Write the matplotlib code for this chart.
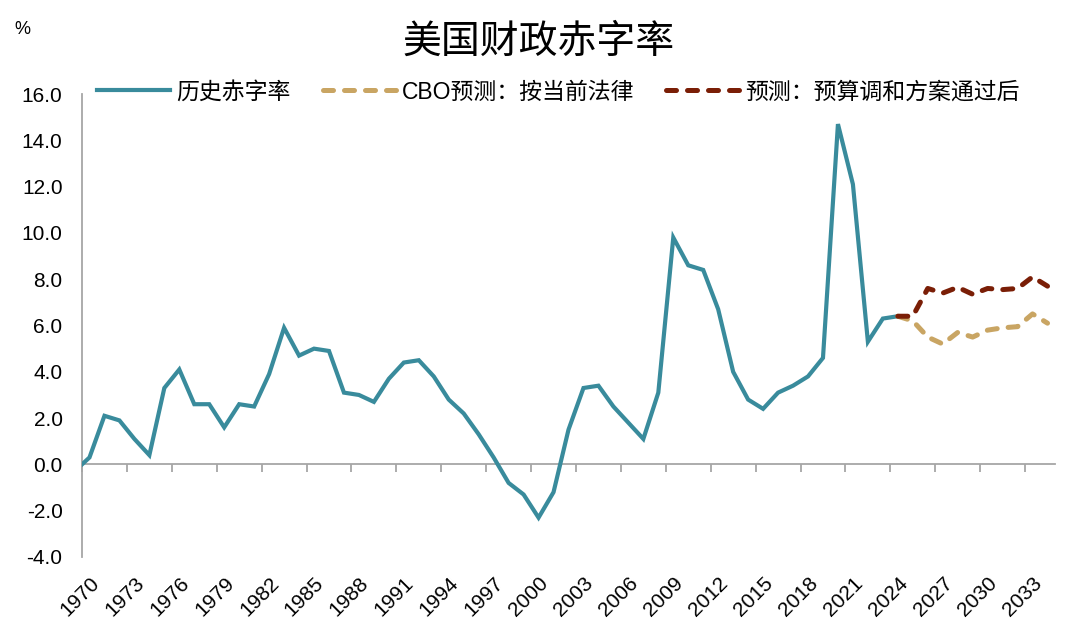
import matplotlib
matplotlib.use("Agg")
import matplotlib.pyplot as plt
from matplotlib.ticker import FormatStrFormatter

plt.rcParams['font.family'] = ['Liberation Sans', 'Noto Sans CJK SC']
plt.rcParams['axes.unicode_minus'] = False

# data (% of GDP)
hist_years = list(range(1969, 2025))
hist_deficit = [-0.3, 0.3, 2.1, 1.9, 1.1, 0.4, 3.3, 4.1, 2.6, 2.6,
                1.6, 2.6, 2.5, 3.9, 5.9, 4.7, 5.0, 4.9, 3.1, 3.0,
                2.7, 3.7, 4.4, 4.5, 3.8, 2.8, 2.2, 1.3, 0.3, -0.8,
                -1.3, -2.3, -1.2, 1.5, 3.3, 3.4, 2.5, 1.8, 1.1, 3.1,
                9.8, 8.6, 8.4, 6.7, 4.0, 2.8, 2.4, 3.1, 3.4, 3.8,
                4.6, 14.7, 12.1, 5.3, 6.3, 6.4]
proj_years = list(range(2024, 2035))
cbo_baseline = [6.4, 6.2, 5.5, 5.2, 5.7, 5.5, 5.8, 5.9, 5.95, 6.5, 6.1]
after_bill = [6.4, 6.4, 7.6, 7.4, 7.65, 7.35, 7.6, 7.55, 7.6, 8.1, 7.7]
label_years = list(range(1970, 2034, 3))
series_names = ['历史赤字率', 'CBO预测：按当前法律', '预测：预算调和方案通过后']

TEAL = '#398b9c'
TAN = '#c9a563'
RED = '#7a1e06'
GREY = '#a6a6a6'

fig = plt.figure(figsize=(10.78, 6.35), dpi=100)
ax = fig.add_axes([82 / 1078, 1 - 557 / 635, (1055 - 82) / 1078, (557 - 94) / 635])

ax.plot(hist_years, hist_deficit, color=TEAL, lw=3.0, solid_joinstyle='miter',
        label=series_names[0], zorder=3)
ax.plot(proj_years, cbo_baseline, color=TAN, lw=3.6, linestyle=(0, (2.0, 2.2)),
        dash_capstyle='round', label=series_names[1], zorder=4)
ax.plot(proj_years, after_bill, color=RED, lw=3.6, linestyle=(0, (2.0, 2.2)),
        dash_capstyle='round', label=series_names[2], zorder=5)

ax.set_xlim(hist_years[0] + 0.5, proj_years[-1] + 0.5)
ax.set_ylim(-4, 16)
ax.set_yticks(range(-4, 17, 2))
ax.yaxis.set_major_formatter(FormatStrFormatter('%.1f'))
ax.tick_params(axis='y', length=0, pad=14, labelsize=15, colors='#000000')

# category axis line at zero with tick marks between categories
for s in ['top', 'right']:
    ax.spines[s].set_visible(False)
ax.spines['left'].set_color(GREY)
ax.spines['left'].set_linewidth(1.3)
ax.spines['bottom'].set_position(('data', 0))
ax.spines['bottom'].set_color(GREY)
ax.spines['bottom'].set_linewidth(1.3)
ax.set_xticks([y - 0.5 for y in label_years])
ax.tick_params(axis='x', direction='out', length=6, width=1.3, color=GREY,
               labelbottom=False)

# year labels along the bottom
sec = ax.secondary_xaxis('bottom')
sec.spines['bottom'].set_visible(False)
sec.set_xticks(label_years)
sec.set_xticklabels([str(y) for y in label_years], rotation=45,
                    ha='right', va='top', rotation_mode='anchor')
sec.tick_params(axis='x', length=0, pad=12, labelsize=15)

fig.text(0.5, 1 - 42 / 635, '美国财政赤字率', ha='center', va='center',
         fontsize=28, fontweight='medium', family=['Noto Sans CJK SC'])
fig.text(22 / 1078, 1 - 30 / 635, '%', ha='center', va='center', fontsize=13)

fig.legend(*ax.get_legend_handles_labels(), loc='center left',
           bbox_to_anchor=(97 / 1078, 1 - 92 / 635), ncol=3, frameon=False,
           fontsize=16.5, handlelength=3.2, handletextpad=0.25,
           columnspacing=1.4, borderaxespad=0, borderpad=0)

fig.savefig('out.png', dpi=100)
